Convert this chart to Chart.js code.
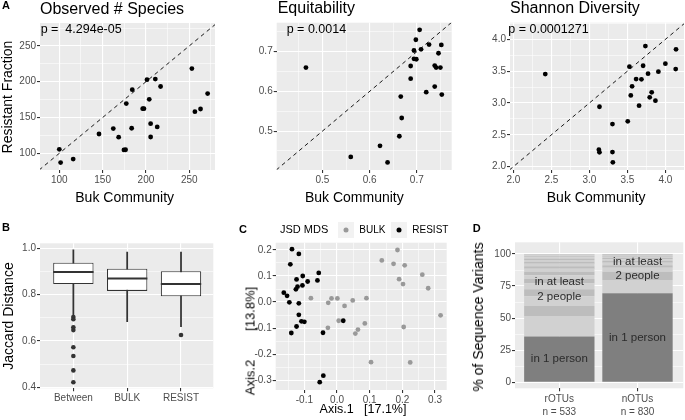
<!DOCTYPE html>
<html>
<head>
<meta charset="utf-8">
<script src="https://cdn.jsdelivr.net/npm/chart.js@4.4.1/dist/chart.umd.min.js"></script>
<style>
body { margin: 0; width: 685px; height: 420px; background: #fff; position: relative; overflow: hidden; font-family: 'Liberation Sans', Arial, Helvetica, sans-serif; }
canvas { position: absolute; }
.t { position: absolute; line-height: 1; white-space: pre; color: #000; }
.b { font-weight: bold; font-size: 11px; }
.c { transform: translateX(-50%); }
.r { transform: translate(-50%, -50%) rotate(-90deg); }
.key { position: absolute; width: 16px; height: 16px; background: #F2F2F2; transform: translate(-50%, -50%); }
.dot { position: absolute; width: 5px; height: 5px; border-radius: 50%; transform: translate(-50%, -50%); }
</style>
</head>
<body>
<canvas id="obs-chart"></canvas>
<canvas id="eq-chart"></canvas>
<canvas id="shannon-chart"></canvas>
<canvas id="jaccard-chart"></canvas>
<canvas id="mds-chart"></canvas>
<canvas id="otu-chart"></canvas>

<div class="t b" style="left:2px;top:0px">A</div>
<div class="t" style="left:40px;top:0.5px;font-size:16px">Observed # Species</div>
<div class="t" style="left:277.7px;top:-0.2px;font-size:16px">Equitability</div>
<div class="t" style="left:510px;top:-0.2px;font-size:16px">Shannon Diversity</div>
<div class="t" style="left:40.7px;top:22.7px;font-size:12.5px">p =  4.294e-05</div>
<div class="t" style="left:286.7px;top:22.7px;font-size:12.5px">p = 0.0014</div>
<div class="t" style="left:508.3px;top:22.7px;font-size:12.5px">p = 0.0001271</div>
<div class="t r" style="left:7px;top:96.5px;font-size:14px">Resistant Fraction</div>
<div class="t c" style="left:124.7px;top:190.1px;font-size:14px">Buk Community</div>
<div class="t c" style="left:354.3px;top:190.1px;font-size:14px">Buk Community</div>
<div class="t c" style="left:596.2px;top:190.1px;font-size:14px">Buk Community</div>

<div class="t b" style="left:2px;top:222.4px">B</div>
<div class="t r" style="left:7.5px;top:315.6px;font-size:14px">Jaccard Distance</div>

<div class="t b" style="left:239px;top:224px">C</div>
<div class="t" style="left:280px;top:224px;font-size:11px">JSD MDS</div>
<div class="key" style="left:345.7px;top:230px"></div>
<div class="dot" style="left:345.7px;top:230px;background:#999"></div>
<div class="t" style="left:359.3px;top:224.8px;font-size:10px">BULK</div>
<div class="key" style="left:399.3px;top:230px"></div>
<div class="dot" style="left:399.3px;top:230px;background:#000"></div>
<div class="t" style="left:412.3px;top:224.8px;font-size:10px">RESIST</div>
<div class="t r" style="left:250px;top:341px;font-size:13px">Axis.2        [13.8%]</div>
<div class="t c" style="left:363px;top:403px;font-size:12.5px">Axis.1   [17.1%]</div>

<div class="t b" style="left:472.7px;top:223.4px">D</div>
<div class="t r" style="left:477.5px;top:316.7px;font-size:14px">% of Sequence Variants</div>

<script>
// A: bulk community vs resistant fraction, one point per person
const obsBulk = [100, 101.5, 116, 145.8, 162.3, 168.5, 174.6, 176.5, 177.3, 183.5, 184.2, 196.2, 197.7, 201.2, 203.8, 205.4, 205.4, 210.8, 213, 216.9, 253, 256.5, 263, 271.2];
const obsResist = [105.6, 87, 92, 127, 134.5, 122.5, 104.7, 105, 169.4, 135, 188.9, 162.4, 162.4, 202.8, 175.4, 141.4, 122.8, 203.7, 136.8, 193.3, 218.3, 158.2, 161.9, 183.4];
const obsTicks = [100, 150, 200, 250];
const obsTickLabels = ['100', '150', '200', '250'];

const eqBulk = [0.465, 0.560, 0.622, 0.638, 0.663, 0.666, 0.668, 0.687, 0.687, 0.694, 0.694, 0.698, 0.699, 0.706, 0.709, 0.720, 0.726, 0.738, 0.738, 0.741, 0.746, 0.750, 0.752, 0.753];
const eqResist = [0.660, 0.435, 0.463, 0.421, 0.487, 0.587, 0.533, 0.632, 0.664, 0.703, 0.682, 0.730, 0.681, 0.755, 0.706, 0.598, 0.718, 0.612, 0.665, 0.660, 0.696, 0.660, 0.717, 0.592];
const eqTicks = [0.5, 0.6, 0.7];
const eqTickLabels = ['0.5', '0.6', '0.7'];

const shBulk = [2.42, 3.133, 3.125, 3.133, 3.304, 3.304, 3.309, 3.505, 3.527, 3.545, 3.562, 3.615, 3.654, 3.685, 3.707, 3.737, 3.772, 3.794, 3.82, 3.869, 3.908, 4.0, 4.136, 4.14];
const shResist = [3.455, 2.942, 2.267, 2.225, 2.67, 2.23, 2.068, 2.712, 3.571, 3.12, 3.262, 3.377, 2.958, 3.372, 3.586, 3.895, 3.461, 3.089, 3.168, 3.037, 3.492, 3.618, 3.534, 3.843];
const shTicks = [2.0, 2.5, 3.0, 3.5, 4.0];
const shTickLabels = ['2.0', '2.5', '3.0', '3.5', '4.0'];

// B: jaccard distance boxplots
const boxGroups = ['Between', 'BULK', 'RESIST'];
const boxWhiskerLow = [0.71, 0.683, 0.662];
const boxQ1 = [0.846, 0.816, 0.793];
const boxMedian = [0.898, 0.870, 0.846];
const boxQ3 = [0.938, 0.912, 0.901];
const boxWhiskerHigh = [0.993, 0.984, 0.984];
const betweenOutliers = [0.703, 0.694, 0.659, 0.647, 0.573, 0.535, 0.473, 0.422];
const resistOutliers = [0.626];
const jacTicks = [0.4, 0.6, 0.8, 1.0];
const jacTickLabels = ['0.4', '0.6', '0.8', '1.0'];

// C: JSD MDS ordination
const mdsBulkX = [-0.080, -0.027, -0.017, 0.001, 0.023, 0.048, 0.090, 0.005, -0.028, 0.056, 0.064, 0.085, 0.137, 0.173, 0.185, 0.207, 0.190, 0.202, 0.261, 0.279, 0.317, 0.204, 0.104, 0.224];
const mdsBulkY = [0.015, -0.003, 0.014, 0.014, -0.015, 0.006, 0.015, -0.072, -0.099, -0.121, -0.106, -0.082, 0.160, 0.147, 0.200, 0.141, 0.088, 0.069, 0.105, 0.053, -0.051, -0.096, -0.231, -0.232];
const mdsResistX = [-0.138, -0.117, -0.143, -0.056, -0.105, -0.124, -0.090, -0.060, -0.106, -0.121, -0.126, -0.163, -0.153, -0.146, -0.117, -0.117, -0.109, -0.100, -0.124, -0.140, -0.043, 0.019, -0.042, -0.053];
const mdsResistY = [0.203, 0.185, 0.145, 0.112, 0.100, 0.087, 0.079, 0.083, 0.064, 0.059, 0.049, 0.036, 0.024, -0.001, -0.005, -0.049, -0.074, -0.076, -0.094, -0.119, -0.118, -0.072, -0.283, -0.308];
const mdsXTicks = [-0.1, 0.0, 0.1, 0.2, 0.3];
const mdsXTickLabels = ['-0.1', '0.0', '0.1', '0.2', '0.3'];
const mdsYTicks = [-0.3, -0.2, -0.1, 0.0, 0.1, 0.2];
const mdsYTickLabels = ['-0.3', '-0.2', '-0.1', '0.0', '0.1', '0.2'];

// D: share of sequence variants by number of people they occur in (1, 2, 3, ...)
const otuGroups = ['rOTUs', 'nOTUs'];
const otuCounts = [533, 830];
const rOtuShares = [35.6, 16.1, 7.8, 7.5, 5.5, 4.5, 3.5, 3.0, 2.6, 2.4, 2.0, 1.8, 1.6, 1.4, 1.2, 1.0, 0.8, 0.7, 0.6, 0.4];
const nOtuShares = [69.3, 10.4, 6.5, 3.0, 2.0, 2.0, 1.5, 1.2, 1.0, 0.9, 0.8, 0.6, 0.5, 0.3];
const otuTicks = [0, 25, 50, 75, 100];
const otuTickLabels = ['0', '25', '50', '75', '100'];

Chart.defaults.font.family = "'Liberation Sans', Arial, Helvetica, sans-serif";

const plugin = {
    id: 'panelBackground',
    beforeDraw: (chart) => {
        const { ctx, chartArea: a } = chart
        ctx.save()
        ctx.fillStyle = '#EBEBEB'
        ctx.fillRect(a.left, a.top, a.right - a.left, a.bottom - a.top)
        ctx.restore()
    }
}

function place(id, box, area) {
    const el = document.getElementById(id)
    el.style.left = box[0] + 'px'
    el.style.top = box[1] + 'px'
    el.width = box[2]
    el.height = box[3]
    return {
        el,
        padding: { left: 0, top: area[1] - box[1], right: box[0] + box[2] - area[2], bottom: 0 },
        yWidth: area[0] - box[0],
        xHeight: box[1] + box[3] - area[3]
    }
}

function axis(range, majors, labels, withMinor = true) {
    const step = majors[1] - majors[0]
    const near = (a, b) => Math.abs(a - b) < Math.abs(step) * 1e-6
    const minors = withMinor
        ? [majors[0] - step / 2, ...majors.map(v => v + step / 2)].filter(v => v >= range[0] && v <= range[1])
        : []
    const all = majors.concat(minors).sort((a, b) => a - b)
    const isMajor = v => majors.some(m => near(m, v))
    return {
        type: 'linear',
        min: range[0],
        max: range[1],
        offset: false,
        afterBuildTicks: (s) => { s.ticks = all.map(v => ({ value: v })) },
        ticks: {
            autoSkip: false,
            maxRotation: 0,
            padding: 1,
            color: '#4D4D4D',
            font: { size: 10 },
            callback: (v) => {
                const i = majors.findIndex(m => near(m, v))
                return i < 0 ? '' : labels[i]
            }
        },
        grid: {
            color: '#ffffff',
            offset: false,
            tickLength: 3,
            lineWidth: (c) => (c.tick && isMajor(c.tick.value)) ? 1.1 : 0.55,
            tickColor: (c) => (c.tick && isMajor(c.tick.value)) ? '#333333' : 'rgba(0,0,0,0)'
        },
        border: { display: false }
    }
}

function options(frame, x, y, extra = {}) {
    x.afterFit = (s) => { s.height = frame.xHeight }
    y.afterFit = (s) => { s.width = frame.yWidth }
    return Object.assign({
        responsive: false,
        animation: false,
        events: [],
        layout: { padding: frame.padding },
        plugins: { legend: { display: false }, tooltip: { enabled: false } },
        scales: { x, y }
    }, extra)
}

function scatterPanel(id, box, area, xs, ys, xRange, yRange, ticks, labels) {
    const frame = place(id, box, area)
    const lo = Math.min(xRange[0], yRange[0])
    const hi = Math.max(xRange[1], yRange[1])
    new Chart(frame.el, {
        type: 'scatter',
        data: {
            datasets: [
                {
                    data: xs.map((x, i) => ({ x, y: ys[i] })),
                    pointRadius: 2.4,
                    backgroundColor: '#000000',
                    borderWidth: 0
                },
                {
                    data: [{ x: lo, y: lo }, { x: hi, y: hi }],
                    showLine: true,
                    pointRadius: 0,
                    borderColor: '#1a1a1a',
                    borderWidth: 1,
                    borderDash: [4, 3.5],
                    clip: 0
                }
            ]
        },
        options: options(frame, axis(xRange, ticks, labels), axis(yRange, ticks, labels)),
        plugins: [plugin]
    })
}

scatterPanel('obs-chart', [0, 0, 225, 200], [40, 23, 215, 170], obsBulk, obsResist, [77.7, 279.7], [76.7, 282], obsTicks, obsTickLabels)
scatterPanel('eq-chart', [228, 0, 232, 200], [276.7, 22.7, 451.7, 170], eqBulk, eqResist, [0.403, 0.774], [0.402, 0.773], eqTicks, eqTickLabels)
scatterPanel('shannon-chart', [460, 0, 232, 200], [510, 22.7, 684, 170], shBulk, shResist, [1.956, 4.245], [1.948, 4.262], shTicks, shTickLabels)

// B
const medianPlugin = {
    id: 'boxMedians',
    afterDatasetsDraw: (chart) => {
        const { ctx } = chart
        const y = chart.scales.y
        const boxes = chart.getDatasetMeta(1).data
        ctx.save()
        ctx.strokeStyle = '#333333'
        ctx.lineWidth = 2
        boxMedian.forEach((m, i) => {
            const bar = boxes[i]
            const py = y.getPixelForValue(m)
            ctx.beginPath()
            ctx.moveTo(bar.x - bar.width / 2, py)
            ctx.lineTo(bar.x + bar.width / 2, py)
            ctx.stroke()
        })
        ctx.restore()
    }
}

const jacFrame = place('jaccard-chart', [0, 220, 225, 200], [40, 243.3, 213.3, 388.3])
new Chart(jacFrame.el, {
    type: 'bar',
    data: {
        datasets: [
            {
                data: boxGroups.map((g, i) => ({ x: i, y: [boxWhiskerLow[i], boxWhiskerHigh[i]] })),
                barThickness: 1.1,
                backgroundColor: '#333333',
                grouped: false,
                order: 2
            },
            {
                data: boxGroups.map((g, i) => ({ x: i, y: [boxQ1[i], boxQ3[i]] })),
                backgroundColor: '#ffffff',
                borderColor: '#333333',
                borderWidth: 1.1,
                borderSkipped: false,
                barPercentage: 0.75,
                categoryPercentage: 1,
                grouped: false,
                order: 1
            },
            {
                type: 'scatter',
                data: betweenOutliers.map(v => ({ x: 0, y: v })).concat(resistOutliers.map(v => ({ x: 2, y: v }))),
                pointRadius: 2.3,
                backgroundColor: '#333333',
                borderWidth: 0,
                order: 0
            }
        ]
    },
    options: options(jacFrame, axis([-0.62, 2.6], [0, 1, 2], boxGroups, false), axis([0.3957, 1.0216], jacTicks, jacTickLabels)),
    plugins: [plugin, medianPlugin]
})

// C
const mdsFrame = place('mds-chart', [228, 220, 230, 200], [275.7, 242.7, 446.7, 390])
new Chart(mdsFrame.el, {
    type: 'scatter',
    data: {
        datasets: [
            {
                label: 'BULK',
                data: mdsBulkX.map((x, i) => ({ x, y: mdsBulkY[i] })),
                pointRadius: 2.4,
                backgroundColor: '#999999',
                borderWidth: 0
            },
            {
                label: 'RESIST',
                data: mdsResistX.map((x, i) => ({ x, y: mdsResistY[i] })),
                pointRadius: 2.4,
                backgroundColor: '#000000',
                borderWidth: 0
            }
        ]
    },
    options: options(mdsFrame, axis([-0.1878, 0.3357], mdsXTicks, mdsXTickLabels), axis([-0.338, 0.228], mdsYTicks, mdsYTickLabels)),
    plugins: [plugin]
})

// D
const otuNotes = [
    { group: 0, value: 18.2, text: 'in 1 person' },
    { group: 0, value: 78.4, text: 'in at least' },
    { group: 0, value: 66.8, text: '2 people' },
    { group: 1, value: 34.8, text: 'in 1 person' },
    { group: 1, value: 93.5, text: 'in at least' },
    { group: 1, value: 83.1, text: '2 people' }
]

const notePlugin = {
    id: 'otuNotes',
    afterDatasetsDraw: (chart) => {
        const { ctx } = chart
        const { x, y } = chart.scales
        ctx.save()
        ctx.fillStyle = '#2b2b2b'
        ctx.font = "11.5px 'Liberation Sans', Arial, sans-serif"
        ctx.textAlign = 'center'
        ctx.textBaseline = 'middle'
        otuNotes.forEach(n => ctx.fillText(n.text, x.getPixelForValue(n.group), y.getPixelForValue(n.value)))
        ctx.restore()
    }
}

const layers = Math.max(rOtuShares.length, nOtuShares.length)
const otuDatasets = []
for (let k = 0; k < layers; k++) {
    otuDatasets.push({
        data: [{ x: 0, y: rOtuShares[k] ?? 0 }, { x: 1, y: nOtuShares[k] ?? 0 }],
        backgroundColor: k === 0 ? '#7F7F7F' : (k % 2 ? '#D1D1D1' : '#BDBDBD'),
        borderWidth: 0,
        barPercentage: 0.9,
        categoryPercentage: 1
    })
}

const otuX = axis([-0.567, 1.586], [0, 1], otuGroups.map((g, i) => [g, 'n = ' + otuCounts[i]]), false)
otuX.stacked = true
otuX.ticks.font = { size: 10, lineHeight: 1.35 }
const otuY = axis([-4.7, 109.1], otuTicks, otuTickLabels)
otuY.stacked = true

const otuFrame = place('otu-chart', [462, 220, 223, 200], [515, 242.3, 683.3, 388.3])
new Chart(otuFrame.el, {
    type: 'bar',
    data: { datasets: otuDatasets },
    options: options(otuFrame, otuX, otuY),
    plugins: [plugin, notePlugin]
})
</script>
</body>
</html>
